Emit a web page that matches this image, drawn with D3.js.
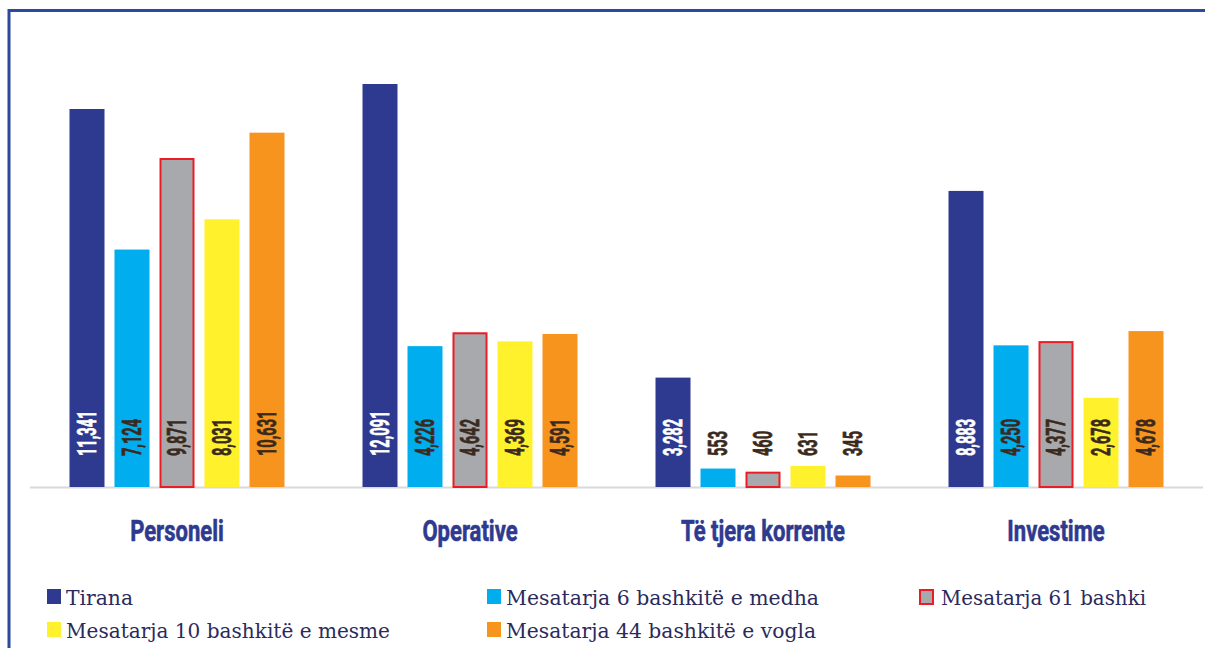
<!DOCTYPE html>
<html>
<head>
<meta charset="utf-8">
<script src="https://cdn.jsdelivr.net/npm/d3@7"></script>
<style>
  body { margin: 0; background: #fff; }
  svg { display: block; }
</style>
</head>
<body>
<svg id="chart"></svg>
<script>
const categories = ['Personeli', 'Operative', 'Të tjera korrente', 'Investime'];
const seriesNames = [
    'Tirana',
    'Mesatarja 6 bashkitë e medha',
    'Mesatarja 61 bashki',
    'Mesatarja 10 bashkitë e mesme',
    'Mesatarja 44 bashkitë e vogla'
];
const tirana = [11341, 12091, 3282, 8883];
const big6 = [7124, 4226, 553, 4250];
const all61 = [9871, 4642, 460, 4377];
const mid10 = [8031, 4369, 631, 2678];
const small44 = [10631, 4591, 345, 4678];

const width = 1205;
const height = 648;
const fills = ['#2e3a8f', '#00aeef', '#a7a9ac', '#fff22d', '#f7941d'];
const labelColors = ['#ffffff', '#3b2a1c', '#3b2a1c', '#3b2a1c', '#3b2a1c'];

const seriesValues = [tirana, big6, all61, mid10, small44];

const svg = d3.select('#chart')
    .attr('width', width)
    .attr('height', height);

// frame
svg.append('path')
    .attr('d', `M9,${height} V10.5 H${width}`)
    .attr('fill', 'none')
    .attr('stroke', '#2d4a9a')
    .attr('stroke-width', 3);

const x0 = d3.scaleBand()
    .domain(categories)
    .range([30.5, 1202.5])
    .padding(0);

const x1 = d3.scaleBand()
    .domain(d3.range(seriesNames.length))
    .range([39, 254])
    .paddingInner(10 / 45)
    .paddingOuter(0);

const y = d3.scaleLinear()
    .domain([0, 12091])
    .range([487, 84]);

// baseline
svg.append('line')
    .attr('x1', 30).attr('x2', 1203)
    .attr('y1', y(0) + 0.5).attr('y2', y(0) + 0.5)
    .attr('stroke', '#d9d9d9')
    .attr('stroke-width', 2);

const groups = svg.append('g')
    .selectAll('g.group')
    .data(categories)
    .enter()
    .append('g')
        .attr('class', 'group')
        .attr('transform', d => `translate(${x0(d)},0)`);

const cells = groups.selectAll('g.cell')
    .data((c, ci) => seriesValues.map((vals, si) => ({ si, value: vals[ci] })))
    .enter()
    .append('g')
        .attr('class', 'cell');

cells.append('rect')
    .attr('x', d => x1(d.si) + (d.si === 2 ? 1 : 0))
    .attr('y', d => y(d.value) + (d.si === 2 ? 1 : 0))
    .attr('width', d => x1.bandwidth() - (d.si === 2 ? 2 : 0))
    .attr('height', d => y(0) - y(d.value) - (d.si === 2 ? 1 : 0))
    .attr('fill', d => fills[d.si])
    .attr('stroke', d => d.si === 2 ? '#ed1c24' : 'none')
    .attr('stroke-width', 2);

// value labels (rotated, condensed)
cells.append('text')
    .attr('transform', d => `translate(${x1(d.si) + x1.bandwidth() / 2},${y(0) - 31}) rotate(-90) scale(0.56,1)`)
    .attr('dy', '0.36em')
    .attr('text-anchor', 'start')
    .attr('fill', d => d.value > 1500 ? labelColors[d.si] : '#3b2a1c')
    .attr('stroke', d => d.value > 1500 ? labelColors[d.si] : '#3b2a1c')
    .attr('stroke-width', 0.7)
    .style('font-family', 'Roboto, sans-serif')
    .style('font-weight', 700)
    .style('font-size', '26px')
    .text(d => d3.format(',')(d.value));

// category labels
groups.append('text')
    .attr('transform', `translate(${x0.bandwidth() / 2},541) scale(0.76,1)`)
    .attr('text-anchor', 'middle')
    .attr('fill', '#2e3a8f')
    .attr('stroke', '#2e3a8f')
    .attr('stroke-width', 0.6)
    .style('font-family', 'Roboto, sans-serif')
    .style('font-weight', 700)
    .style('font-size', '29px')
    .text(d => d);

// legend
const legendPos = [
    [47, 589], [487, 589], [919, 589],
    [47, 622], [487, 622]
];
const legendOrder = [0, 1, 2, 3, 4];

const legend = svg.append('g')
    .selectAll('g.legend')
    .data(legendOrder)
    .enter()
    .append('g')
        .attr('class', 'legend')
        .attr('transform', (d, i) => `translate(${legendPos[i][0]},${legendPos[i][1]})`);

legend.append('rect')
    .attr('x', d => d === 2 ? 1 : 0)
    .attr('y', d => d === 2 ? 1 : 0)
    .attr('width', d => d === 2 ? 13 : 14)
    .attr('height', d => d === 2 ? 14 : 15)
    .attr('fill', d => fills[d])
    .attr('stroke', d => d === 2 ? '#ed1c24' : 'none')
    .attr('stroke-width', 2);

legend.append('text')
    .attr('x', d => d === 2 ? 22 : 19)
    .attr('y', 16)
    .attr('fill', '#2b2a5c')
    .attr('font-family', 'DejaVu Serif')
    .attr('font-size', 21)
    .attr('textLength', d => [67, 313, 205, 324, 310][d])
    .attr('lengthAdjust', 'spacingAndGlyphs')
    .text(d => seriesNames[d]);
</script>
</body>
</html>
